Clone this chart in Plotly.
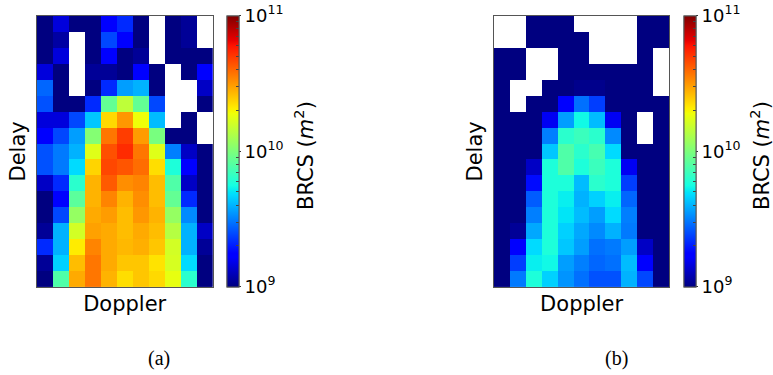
import plotly.graph_objects as go

# ---------------- data (log10 of BRCS in m^2; None = no data) ----------------
doppler_bins = list(range(11))
delay_bins = list(range(17))

log10_brcs_a = [
    [9.0, 9.16, 9.0, 9.0, 9.23, 9.33, 9.0, None, 9.0, 9.04, None],
    [9.0, 9.06, None, 9.0, 9.39, 9.23, 9.0, None, 9.0, 9.04, None],
    [9.0, 9.16, None, 9.0, 9.23, 9.0, 9.04, None, 9.0, 9.0, 9.0],
    [9.16, 9.0, None, 9.04, 9.04, 9.0, 9.23, 9.0, None, 9.0, 9.23],
    [9.45, 9.0, None, 9.0, 9.33, 9.56, 9.60, 9.0, None, None, 9.12],
    [9.41, 9.0, 9.0, 9.33, 9.94, 10.16, 9.94, 9.39, None, None, 9.0],
    [9.16, 9.16, 9.39, 9.64, 10.36, 10.50, 10.28, 9.62, None, 9.0, None],
    [9.23, 9.39, 9.56, 10.02, 10.57, 10.69, 10.49, 9.99, 9.0, 9.0, None],
    [9.41, 9.49, 9.60, 10.24, 10.65, 10.73, 10.57, 10.24, 9.50, 9.12, 9.0],
    [9.41, 9.49, 9.68, 10.37, 10.67, 10.64, 10.59, 10.35, 9.77, 9.23, 9.0],
    [9.12, 9.33, 9.80, 10.44, 10.63, 10.52, 10.54, 10.42, 9.89, 9.12, 9.0],
    [9.0, 9.23, 9.92, 10.44, 10.54, 10.44, 10.52, 10.42, 9.94, 9.33, 9.0],
    [9.0, 9.39, 10.06, 10.46, 10.49, 10.42, 10.50, 10.44, 10.06, 9.52, 9.0],
    [9.04, 9.60, 10.21, 10.48, 10.46, 10.42, 10.46, 10.42, 10.14, 9.60, 9.12],
    [9.33, 9.60, 10.32, 10.54, 10.46, 10.43, 10.45, 10.40, 10.21, 9.60, 9.04],
    [9.04, 9.66, 10.42, 10.57, 10.46, 10.40, 10.40, 10.34, 10.22, 9.68, 9.0],
    [9.0, 9.89, 10.46, 10.57, 10.44, 10.35, 10.40, 10.36, 10.26, 9.80, 9.0],
]

log10_brcs_b = [
    [None, None, 9.0, 9.0, 9.0, None, None, None, None, 9.0, 9.0],
    [None, None, 9.0, 9.0, 9.0, 9.0, None, None, None, 9.0, 9.0],
    [9.0, 9.0, None, None, 9.0, 9.0, None, None, None, 9.0, None],
    [9.0, 9.0, None, None, 9.0, 9.0, 9.0, 9.0, 9.0, 9.0, None],
    [9.0, None, None, 9.0, 9.0, 9.02, 9.02, 9.0, 9.0, 9.0, None],
    [9.0, None, 9.0, 9.0, 9.25, 9.47, 9.37, 9.0, 9.0, 9.0, 9.0],
    [9.0, 9.0, 9.0, 9.2, 9.56, 9.74, 9.62, 9.2, 9.0, None, 9.0],
    [9.0, 9.0, 9.0, 9.50, 9.80, 9.84, 9.80, 9.52, 9.0, None, 9.0],
    [9.0, 9.0, 9.0, 9.64, 9.89, 9.80, 9.87, 9.68, 9.0, 9.0, 9.0],
    [9.0, 9.0, 9.12, 9.77, 9.89, 9.77, 9.84, 9.77, 9.2, 9.0, 9.0],
    [9.0, 9.0, 9.27, 9.77, 9.77, 9.62, 9.80, 9.77, 9.37, 9.0, 9.0],
    [9.0, 9.0, 9.43, 9.77, 9.72, 9.60, 9.66, 9.72, 9.45, 9.0, 9.0],
    [9.0, 9.0, 9.50, 9.77, 9.70, 9.62, 9.56, 9.68, 9.50, 9.0, 9.0],
    [9.0, 9.04, 9.58, 9.77, 9.66, 9.58, 9.52, 9.60, 9.49, 9.0, 9.0],
    [9.0, 9.23, 9.68, 9.77, 9.64, 9.56, 9.47, 9.49, 9.56, 9.12, 9.0],
    [9.0, 9.37, 9.72, 9.74, 9.56, 9.50, 9.45, 9.47, 9.62, 9.23, 9.0],
    [9.0, 9.49, 9.77, 9.66, 9.54, 9.47, 9.41, 9.41, 9.60, 9.39, 9.0],
]

cbar_major_vals = [9, 10, 11]
cbar_major_text = ["10<sup>9</sup>", "10<sup>10</sup>", "10<sup>11</sup>"]
cbar_minor_vals = [9.30103, 9.47712, 9.60206, 9.69897, 9.77815, 9.84510, 9.90309, 9.95424,
                   10.30103, 10.47712, 10.60206, 10.69897, 10.77815, 10.84510, 10.90309, 10.95424]
cbar_title = "BRCS (<i>m</i><sup>2</sup>)"
panel_labels = ["(a)", "(b)"]


# ---------------- matplotlib "jet" colormap ----------------
def _interp(segs, t):
    for (x0, v0), (x1, v1) in zip(segs[:-1], segs[1:]):
        if x0 <= t <= x1:
            return v0 if x1 == x0 else v0 + (v1 - v0) * (t - x0) / (x1 - x0)
    return segs[-1][1]


_R = [(0, 0), (0.35, 0), (0.66, 1), (0.89, 1), (1, 0.5)]
_G = [(0, 0), (0.125, 0), (0.375, 1), (0.64, 1), (0.91, 0), (1, 0)]
_B = [(0, 0.5), (0.11, 1), (0.34, 1), (0.65, 0), (1, 0)]
_stops = [0, 0.11, 0.125, 0.34, 0.35, 0.375, 0.64, 0.65, 0.66, 0.89, 0.91, 1]
jet = [[t, "rgb(%d,%d,%d)" % (round(255 * _interp(_R, t)), round(255 * _interp(_G, t)),
                              round(255 * _interp(_B, t)))] for t in _stops]

W, H = 773, 375
FONT = "DejaVu Sans"
plot_a = (36.7, 212.7)
plot_b = (494.0, 669.3)
plot_y = (16.0, 286.7)
ydom = [1 - plot_y[1] / H, 1 - plot_y[0] / H]
cb_len = ydom[1] - ydom[0]


def main_cbar(xpix):
    return dict(x=xpix / W, xanchor="left", y=ydom[0], yanchor="bottom", len=cb_len,
                lenmode="fraction", thickness=12, thicknessmode="pixels", xpad=0, ypad=0,
                tickvals=cbar_major_vals, ticktext=cbar_major_text, ticks="outside",
                ticklen=2, tickwidth=1, tickcolor="#333",
                tickfont=dict(family=FONT, size=18, color="black"),
                outlinewidth=1, outlinecolor="#555")


def minor_cbar(xpix):
    return dict(x=xpix / W, xanchor="left", y=ydom[0], yanchor="bottom", len=cb_len,
                lenmode="fraction", thickness=12, thicknessmode="pixels", xpad=0, ypad=0,
                tickvals=cbar_minor_vals, ticktext=[""] * len(cbar_minor_vals),
                ticks="inside", ticklen=3, tickwidth=1,
                tickcolor="#444", showticklabels=False, outlinewidth=1, outlinecolor="#555")


fig = go.Figure()
for z, xa, ya, cbx in [(log10_brcs_a, "x", "y", 227), (log10_brcs_b, "x2", "y2", 684)]:
    fig.add_trace(go.Heatmap(z=z, x=doppler_bins, y=delay_bins, xaxis=xa, yaxis=ya,
                             colorscale=jet, zmin=9, zmax=11, colorbar=main_cbar(cbx),
                             hoverongaps=False))
    fig.add_trace(go.Heatmap(z=z, x=doppler_bins, y=delay_bins, xaxis=xa, yaxis=ya,
                             colorscale=jet, zmin=9, zmax=11, colorbar=minor_cbar(cbx),
                             hoverinfo="skip"))

ax_common = dict(showticklabels=False, ticks="", showgrid=False, zeroline=False,
                 showline=True, mirror=True, linecolor="#555", linewidth=1)
title_font = dict(family=FONT, size=21, color="black")

annotations = []
for lbl, cx in zip(panel_labels, [159, 616]):
    annotations.append(dict(text=lbl, x=cx / W, y=1 - 358 / H, xref="paper", yref="paper",
                            xanchor="center", yanchor="middle", showarrow=False,
                            font=dict(family="Liberation Serif", size=20, color="black")))
for tx in [304, 760]:
    annotations.append(dict(text=cbar_title, x=tx / W, y=1 - 156 / H, xref="paper",
                            yref="paper", xanchor="center", yanchor="middle", textangle=-90,
                            showarrow=False, font=title_font))

fig.update_layout(
    width=W, height=H, margin=dict(l=0, r=0, t=0, b=0, autoexpand=False),
    paper_bgcolor="white", plot_bgcolor="white", showlegend=False,
    xaxis=dict(domain=[plot_a[0] / W, plot_a[1] / W], range=[-0.5, 10.5], anchor="y",
               title=dict(text="Doppler", font=title_font, standoff=9), **ax_common),
    yaxis=dict(domain=ydom, range=[16.5, -0.5], anchor="x",
               title=dict(text="Delay", font=title_font, standoff=4), **ax_common),
    xaxis2=dict(domain=[plot_b[0] / W, plot_b[1] / W], range=[-0.5, 10.5], anchor="y2",
                title=dict(text="Doppler", font=title_font, standoff=9), **ax_common),
    yaxis2=dict(domain=ydom, range=[16.5, -0.5], anchor="x2",
                title=dict(text="Delay", font=title_font, standoff=4), **ax_common),
    annotations=annotations,
)

fig.write_html("out.html", config={"displayModeBar": False, "staticPlot": True},
               post_script="document.body.style.margin='0px';document.body.style.overflow='hidden';")
